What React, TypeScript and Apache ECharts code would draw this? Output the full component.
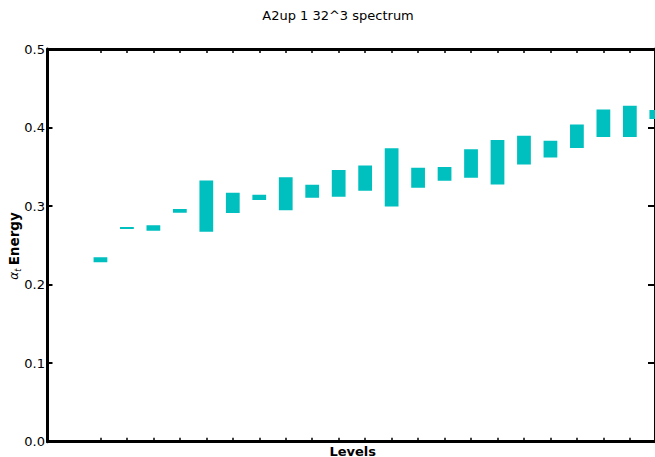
import React, { useEffect, useRef } from 'react';
import * as echarts from 'echarts';

const levels = [1, 2, 3, 4, 5, 6, 7, 8, 9, 10, 11, 12, 13, 14, 15, 16, 17, 18, 19, 20, 21, 22];
const lows = [0.2284, 0.2707, 0.2686, 0.2915, 0.2673, 0.2911, 0.3077, 0.2946, 0.3106, 0.3119, 0.3195, 0.2996, 0.3233, 0.3322, 0.3361, 0.3276, 0.3531, 0.362, 0.3739, 0.3879, 0.3879, 0.4108];
const highs = [0.2347, 0.2733, 0.2755, 0.2962, 0.3327, 0.317, 0.3144, 0.3366, 0.3271, 0.3459, 0.3518, 0.3735, 0.3488, 0.3497, 0.3722, 0.384, 0.3895, 0.3831, 0.404, 0.4231, 0.4277, 0.4222];
const yTickValues = [0, 0.1, 0.2, 0.3, 0.4, 0.5];
const titleText = 'A2up 1 32^3 spectrum';
const xLabel = 'Levels';

const FONT = 'DejaVu Sans';

export default function App() {
  const ref = useRef<HTMLDivElement>(null);
  useEffect(() => {
    document.body.style.margin = '0';
    document.body.style.overflow = 'hidden';
    const chart = echarts.init(ref.current as HTMLDivElement, null, { renderer: 'svg' });
    const data = levels.map((l, i) => [l, lows[i], highs[i]]);
    const commonX = {
      type: 'value',
      min: -1,
      max: 21.95,
      axisLine: { show: true, onZero: false, lineStyle: { color: '#000', width: 3 } },
      axisTick: { show: true, inside: true, length: 4, customValues: levels, lineStyle: { color: '#000', width: 1.5 } },
      axisLabel: { show: false },
      splitLine: { show: false },
    };
    chart.setOption({
      animation: false,
      backgroundColor: '#fff',
      grid: { left: 47.5, right: -3, top: 49, bottom: 15.3, containLabel: false },
      xAxis: [
        { ...commonX, position: 'bottom' },
        { ...commonX, position: 'top' },
      ],
      yAxis: [
        {
          type: 'value',
          min: 0,
          max: 0.5,
          interval: 0.1,
          position: 'left',
          axisLine: { show: true, onZero: false, lineStyle: { color: '#000', width: 3 } },
          axisTick: { show: true, inside: true, length: 5, customValues: yTickValues, lineStyle: { color: '#000', width: 2 } },
          axisLabel: {
            show: true,
            margin: 2.5,
            color: '#000',
            fontSize: 13,
            fontFamily: FONT,
            customValues: yTickValues,
            formatter: (v: number) => v.toFixed(1),
          },
          splitLine: { show: false },
        },
        {
          type: 'value',
          min: 0,
          max: 0.5,
          interval: 0.1,
          position: 'right',
          axisLine: { show: true, onZero: false, lineStyle: { color: '#000', width: 3 } },
          axisTick: { show: true, inside: true, length: 7, lineStyle: { color: '#000', width: 2 } },
          axisLabel: { show: false },
          splitLine: { show: false },
        },
      ],
      graphic: [
        {
          type: 'text',
          x: 338,
          y: 15,
          style: { text: titleText, fill: '#000', fontSize: 13, fontFamily: FONT, align: 'center', verticalAlign: 'middle' },
        },
        {
          type: 'text',
          x: 352.7,
          y: 451,
          style: { text: xLabel, fill: '#000', fontSize: 13, fontWeight: 'bold', fontFamily: FONT, align: 'center', verticalAlign: 'middle' },
        },
        {
          type: 'text',
          x: 14,
          y: 246,
          rotation: Math.PI / 2,
          style: {
            text: '{a|α}{s|t} {b|Energy}',
            align: 'center',
            verticalAlign: 'middle',
            rich: {
              a: { fontSize: 12, fontStyle: 'italic', fontFamily: FONT, fill: '#000', lineHeight: 16, verticalAlign: 'middle' },
              s: { fontSize: 8, fontStyle: 'italic', fontFamily: FONT, fill: '#000', lineHeight: 16, verticalAlign: 'bottom', padding: [6, 0, 0, 0] },
              b: { fontSize: 13.5, fontWeight: 'bold', fontFamily: FONT, fill: '#000', lineHeight: 16 },
            },
          },
        },
      ],
      series: [
        {
          type: 'custom',
          xAxisIndex: 0,
          yAxisIndex: 0,
          clip: true,
          encode: { x: 0, y: [1, 2] },
          data,
          renderItem: (params: any, api: any) => {
            const x = api.value(0);
            const lo = api.value(1);
            const hi = api.value(2);
            const pTop = api.coord([x, hi]);
            const pBot = api.coord([x, lo]);
            const w = api.size([0.52, 0])[0];
            return {
              type: 'rect',
              shape: { x: pTop[0] - w / 2, y: pTop[1], width: w, height: pBot[1] - pTop[1] },
              style: { fill: '#00bfbf' },
            };
          },
        },
      ],
    });
    return () => chart.dispose();
  }, []);
  return <div ref={ref} style={{ width: 655, height: 457 }} />;
}
